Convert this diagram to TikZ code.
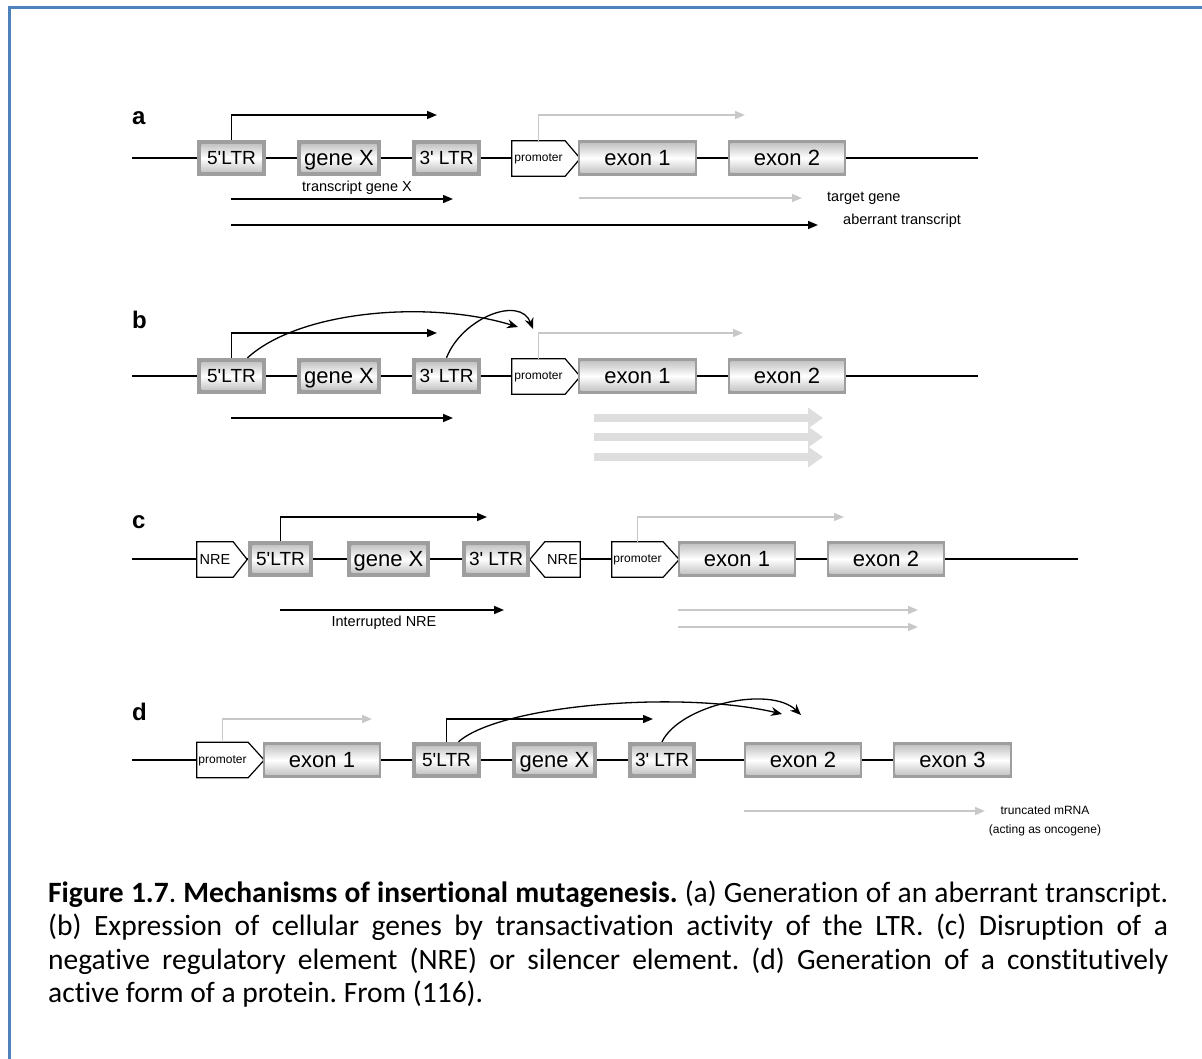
\documentclass[tikz,border=0pt]{standalone}
\usepackage{fontspec}
\setmainfont{Carlito}[Ligatures={TeX,NoCommon}]
\newfontfamily\arial{Liberation Sans}
\usetikzlibrary{arrows.meta,backgrounds}
\definecolor{frameblue}{RGB}{79,129,189}
\definecolor{lgray}{RGB}{200,200,200}
\definecolor{tgray}{RGB}{222,222,222}
\definecolor{boxgray}{RGB}{158,158,158}
\newcommand\fs[1]{\fontsize{#1}{#1}\selectfont}
\newcommand\pentR[2]{\draw[line width=1.2pt, fill=white] (#1.north west) -- (#1.north east) -- ([xshift=#2]#1.east) -- (#1.south east) -- (#1.south west) -- cycle;}
\newcommand\pentL[2]{\draw[line width=1.2pt, fill=white] (#1.north east) -- (#1.north west) -- ([xshift=-#2]#1.west) -- (#1.south west) -- (#1.south east) -- cycle;}
\tikzset{
  bb/.style={line width=1.5pt, black},
  tx/.style={line width=1.5pt, black, -{Triangle[length=10pt,width=8pt]}},
  gx/.style={line width=1.5pt, lgray, -{Triangle[length=10pt,width=8pt]}},
  cx/.style={line width=1.3pt, black, -{Stealth[length=11pt,width=9pt]}},
  fatarrow/.style={line width=8pt, tgray, -{Triangle[length=15pt,width=20pt]}},
  lbl/.style={font=\arial\bfseries\fs{24}, anchor=base west, inner sep=0pt},
  small/.style={font=\arial\fs{14.5}, inner sep=0pt},
  ltr/.style={minimum height=36pt, inner sep=0pt, font=\arial\fs{19},
    text height=13.6pt, text depth=0pt,
    path picture={
      \fill[boxgray] (path picture bounding box.south west) rectangle (path picture bounding box.north east);
      \shade[top color=gray!45, bottom color=gray!45, middle color=white]
        ([shift={(4.5pt,4.5pt)}]path picture bounding box.south west) rectangle ([shift={(-4.5pt,-4.5pt)}]path picture bounding box.north east);
    }},
  genebox/.style={ltr, font=\arial\fs{22}, text height=15.7pt},
  exon/.style={minimum height=36pt, inner sep=0pt, font=\arial\fs{22},
    text height=15.7pt, text depth=0pt,
    path picture={
      \fill[boxgray] (path picture bounding box.south west) rectangle (path picture bounding box.north east);
      \shade[top color=gray!45, bottom color=gray!45, middle color=white]
        ([shift={(2.5pt,3.5pt)}]path picture bounding box.south west) rectangle ([shift={(-2.5pt,-3.5pt)}]path picture bounding box.north east);
    }},
  prom/.style={minimum height=35pt, inner sep=0pt, font=\arial\fs{12}, text height=6.2pt, text depth=0pt},
  nre/.style={minimum height=35pt, inner sep=0pt, font=\arial\fs{14.5}, text height=10.4pt, text depth=0pt},
}
\begin{document}
\begin{tikzpicture}[x=1pt,y=-1pt]
\useasboundingbox (0,0) rectangle (1202,1059);
\draw[frameblue, line width=3.5pt] (9.5,1059) -- (9.5,7.5) -- (1202,7.5);

% labels
\node[lbl] (labA) at (132,125) {a};
\node[lbl] (labB) at (132,328) {b};
\node[lbl] (labC) at (132,528) {c};
\node[lbl] (labD) at (132,720) {d};

% ---------- panel a ----------
\coordinate (sA) at (132,158); \coordinate (eA) at (978,158);
\node[ltr, minimum width=69pt] (la5) at (231.5,158) {5'LTR};
\node[genebox, minimum width=84pt] (lag) at (339,158) {gene X};
\node[ltr, minimum width=69pt] (la3) at (446.5,158) {3' LTR};
\node[prom, minimum width=53pt] (pa) at (538.5,158.5) {promoter};
\node[exon, minimum width=119pt] (ea1) at (637.5,158) {exon 1};
\node[exon, minimum width=118pt] (ea2) at (787,158) {exon 2};
\coordinate (ta1) at (437,115);
\draw[tx] (la5.north) |- (ta1);
\coordinate (tga) at (745,115);
\draw[gx] (pa.north) |- (tga);
\node[small] (txa) at (357,188) {transcript gene X};
\coordinate (ta2s) at (231,199); \coordinate (ta2e) at (453,199);
\draw[tx] (ta2s) -- (ta2e);
\coordinate (ta3s) at (579,198); \coordinate (ta3e) at (802,198);
\draw[gx] (ta3s) -- (ta3e);
\node[small, anchor=west] (tga2) at (827,198) {target gene};
\coordinate (ta4s) at (231,225); \coordinate (ta4e) at (818,225);
\draw[tx] (ta4s) -- (ta4e);
\node[small, anchor=west] (aba) at (843,221) {aberrant transcript};

% ---------- panel b ----------
\coordinate (sB) at (132,376); \coordinate (eB) at (978,376);
\node[ltr, minimum width=69pt] (lb5) at (231.5,376) {5'LTR};
\node[genebox, minimum width=84pt] (lbg) at (339,376) {gene X};
\node[ltr, minimum width=69pt] (lb3) at (446.5,376) {3' LTR};
\node[prom, minimum width=53pt] (pb) at (538.5,376.5) {promoter};
\node[exon, minimum width=119pt] (eb1) at (637.5,376) {exon 1};
\node[exon, minimum width=118pt] (eb2) at (787,376) {exon 2};
\coordinate (tb1) at (437,333);
\draw[tx] (lb5.north) |- (tb1);
\coordinate (tgb) at (743,333);
\draw[gx] (pb.north) |- (tgb);
\coordinate (cb1) at (518,327);
\draw[cx] ([xshift=16pt]lb5.north) .. controls (300,310) and (430,300) .. (cb1);
\coordinate (cb2) at (533,329);
\draw[cx] (lb3.north) .. controls (462,318) and (520,295) .. (cb2);
\coordinate (tb2s) at (231,418); \coordinate (tb2e) at (453,418);
\draw[tx] (tb2s) -- (tb2e);
\coordinate (fb1s) at (594,418); \coordinate (fb1e) at (823,418);
\coordinate (fb2s) at (594,437); \coordinate (fb2e) at (823,437);
\coordinate (fb3s) at (594,457); \coordinate (fb3e) at (823,457);
\draw[fatarrow] (fb1s) -- (fb1e);
\draw[fatarrow] (fb2s) -- (fb2e);
\draw[fatarrow] (fb3s) -- (fb3e);

% ---------- panel c ----------
\coordinate (sC) at (132,559); \coordinate (eC) at (1078,559);
\node[nre, minimum width=36pt] (nl) at (215,559.5) {NRE};
\node[ltr, minimum width=65pt] (lc5) at (280.5,559) {5'LTR};
\node[genebox, minimum width=83pt] (lcg) at (388.5,559) {gene X};
\node[ltr, minimum width=68pt] (lc3) at (496,559) {3' LTR};
\node[nre, minimum width=35pt] (nr) at (562.5,559.5) {NRE};
\node[prom, minimum width=51pt] (pc) at (637.5,559.5) {promoter};
\node[exon, minimum width=118pt] (ec1) at (737,559) {exon 1};
\node[exon, minimum width=118pt] (ec2) at (886,559) {exon 2};
\coordinate (tc1) at (487,517);
\draw[tx] (lc5.north) |- (tc1);
\coordinate (tgc) at (844,517);
\draw[gx] (pc.north) |- (tgc);
\coordinate (tc2s) at (280,610); \coordinate (tc2e) at (504,610);
\draw[tx] (tc2s) -- (tc2e);
\node[small] (inre) at (384,623) {Interrupted NRE};
\coordinate (gc1s) at (678,610); \coordinate (gc1e) at (918,610);
\coordinate (gc2s) at (678,627); \coordinate (gc2e) at (918,627);
\draw[gx] (gc1s) -- (gc1e);
\draw[gx] (gc2s) -- (gc2e);

% ---------- panel d ----------
\coordinate (sD) at (132,760); \coordinate (eD) at (1012,760);
\node[prom, minimum width=51pt] (pd) at (222.5,760) {promoter};
\node[exon, minimum width=118pt] (ed1) at (322,760) {exon 1};
\node[ltr, minimum width=69pt] (ld5) at (446.5,760) {5'LTR};
\node[genebox, minimum width=85pt] (ldg) at (554.5,760) {gene X};
\node[ltr, minimum width=68pt] (ld3) at (662,760) {3' LTR};
\node[exon, minimum width=118pt] (ed2) at (803,760) {exon 2};
\node[exon, minimum width=119pt] (ed3) at (952.5,760) {exon 3};
\coordinate (tgd) at (372,719);
\draw[gx] (pd.north) |- (tgd);
\coordinate (td1) at (653,719);
\draw[tx] (ld5.north) |- (td1);
\coordinate (cd1) at (782,714);
\draw[cx] ([xshift=12pt]ld5.north) .. controls (500,705) and (680,690) .. (cd1);
\coordinate (cd2) at (801,715);
\draw[cx] (ld3.north) .. controls (680,705) and (770,685) .. (cd2);
\coordinate (gds) at (744,811); \coordinate (gde) at (985,811);
\draw[gx] (gds) -- (gde);
\node[inner sep=0pt, align=center, font=\arial\fontsize{12}{19}\selectfont] (trm) at (1045,821) {truncated mRNA\\(acting as oncogene)};

% ---------- background: backbones and arrow-shaped elements ----------
\begin{pgfonlayer}{background}
\draw[bb] (sA) -- (eA);
\draw[bb] (sB) -- (eB);
\draw[bb] (sC) -- (eC);
\draw[bb] (sD) -- (eD);
\pentR{pa}{15pt}
\pentR{pb}{15pt}
\pentR{nl}{14pt}
\pentL{nr}{15pt}
\pentR{pc}{16pt}
\pentR{pd}{16pt}
\end{pgfonlayer}

% ---------- caption ----------
\node[anchor=base west, inner sep=0pt, text width=1120pt, align=justify,
      font=\fontsize{29.5}{33.5}\selectfont] (cap) at (48,902)
 {\hyphenpenalty=10000\exhyphenpenalty=10000\frenchspacing\spaceskip=0.226em plus 0.4em minus 0pt\relax
 \textbf{Figure 1.7}. \textbf{Mechanisms of insertional mutagenesis.} (a) Generation of an aberrant transcript. (b) Expression of cellular genes by transactivation activity of the LTR. (c) Disruption of a negative regulatory element (NRE) or silencer element. (d) Generation of a constitutively active form of a protein. From (116).};
\end{tikzpicture}
\end{document}
